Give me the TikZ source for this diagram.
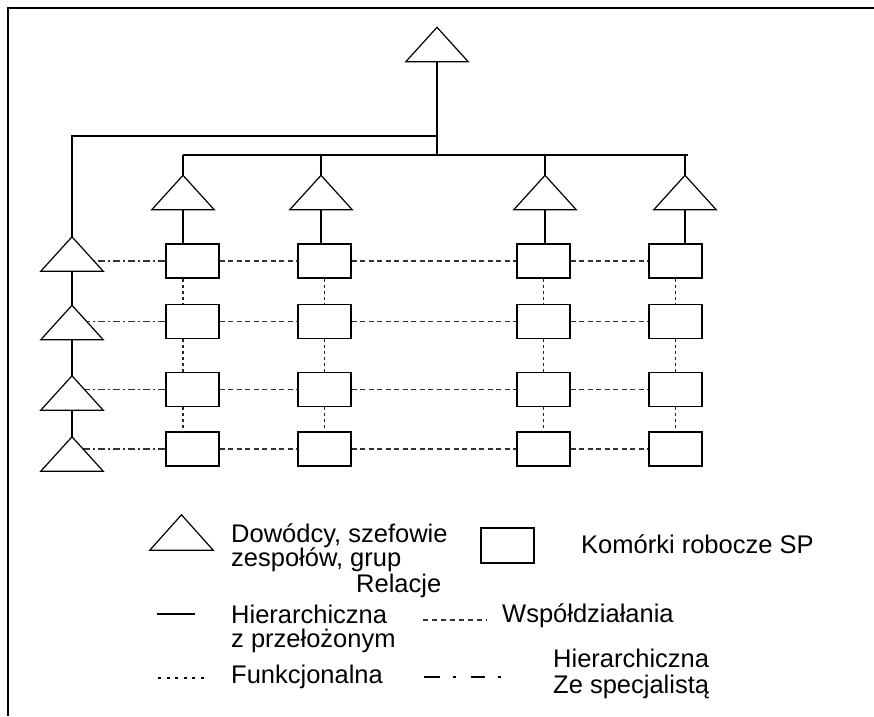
\documentclass[tikz,border=0pt]{standalone}
\usepackage{fontspec}
\setmainfont{Liberation Sans}
\usetikzlibrary{calc}
\begin{document}
\begin{tikzpicture}[x=1pt,y=-1pt,
  trinode/.style={rectangle,inner sep=0pt,minimum width=62pt,minimum height=34pt},
  cell/.style={rectangle,draw,fill=white,line width=1.2pt,inner sep=0pt,minimum width=53pt,minimum height=34pt},
  hier/.style={line width=1.2pt,black},
  coop/.style={line width=1.2pt,black!80,dash pattern=on 5pt off 3.5pt},
  func/.style={line width=1.4pt,black!85,dash pattern=on 3pt off 3pt},
  spec/.style={line width=1.2pt,black!80,dash pattern=on 7pt off 3pt on 2pt off 3pt},
  lbl/.style={anchor=base west,inner sep=0pt,font=\fontsize{25.5}{30}\selectfont}]
\useasboundingbox (0,0) rectangle (874,716);
% frame
\coordinate (fa) at (8,716);
\coordinate (fb) at (8,8);
\coordinate (fc) at (874,8);
\draw[line width=1.6pt] (fa) -- (fb) -- (fc);
% triangle holders
\node[trinode] (T0) at (437,44.5) {};
\node[trinode] (T1) at (183,192.5) {};
\node[trinode] (T2) at (321,192.5) {};
\node[trinode] (T3) at (545,192.5) {};
\node[trinode] (T4) at (685,192.5) {};
\node[trinode] (L1) at (72,254) {};
\node[trinode] (L2) at (72,322.5) {};
\node[trinode] (L3) at (72,393) {};
\node[trinode] (L4) at (72,454) {};
% cells
\foreach \r/\y in {1/261,2/321.5,3/389.5,4/449}
  \foreach \c/\x in {1/192.5,2/324.5,3/543.5,4/675.5}
    \node[cell] (B\r\c) at (\x,\y) {};
% hierarchy lines
\coordinate (ja) at (437,136);
\coordinate (jb) at (437,155);
\coordinate (hl) at (183,155);
\coordinate (hr) at (688,155);
\draw[hier] (T0.south) -- (jb);
\draw[hier] (ja) -| (L1.north);
\draw[hier] (hl) -- (hr);
\foreach \t in {T1,T2,T3,T4} \draw[hier] (\t.north) -- (\t.north |- hl);
\foreach \t/\c in {T1/1,T2/2,T3/3,T4/4} \draw[hier] (\t.south) -- (\t.south |- B1\c.north);
\draw[hier] (L1.south) -- (L2.north);
\draw[hier] (L2.south) -- (L3.north);
\draw[hier] (L3.south) -- (L4.north);
% specialist lines
\foreach \r in {1,2,3,4} \draw[spec] (B\r1.west) -- (B\r1.west -| L\r.center);
% cooperation lines
\foreach \r in {1,2,3,4} {
  \draw[coop] (B\r1.east) -- (B\r2.west);
  \draw[coop] (B\r2.east) -- (B\r3.west);
  \draw[coop] (B\r3.east) -- (B\r4.west);
}
% functional lines
\foreach \r/\s in {1/2,2/3,3/4} {
  \draw[func] (B\r1.south -| T1.south) -- (B\s1.north -| T1.south);
  \draw[func] (B\r2.south) -- (B\s2.north);
  \draw[func] (B\r3.south) -- (B\s3.north);
  \draw[func] (B\r4.south) -- (B\s4.north);
}
% legend
\node[trinode,minimum width=63pt,minimum height=35pt] (LT) at (181.5,532.5) {};
\node[cell,minimum height=35pt] (LB) at (507.5,545.5) {};
% triangles
\foreach \n in {T0,T1,T2,T3,T4,L1,L2,L3,L4,LT}
  \draw[hier,fill=white] (\n.south west) -- (\n.north) -- (\n.south east) -- cycle;
\node[lbl] (tx1) at (231,542) {Dowódcy, szefowie};
\node[lbl] (tx2) at (231,566) {zespołów, grup};
\node[lbl] (tx3) at (581,553) {Komórki robocze SP};
\node[lbl] (tx4) at (356,592) {Relacje};
\node[lbl] (tx5) at (231,623) {Hierarchiczna};
\node[lbl] (tx6) at (231,647) {z przełożonym};
\node[lbl] (tx7) at (502,622) {Współdziałania};
\node[lbl] (tx8) at (231,683) {Funkcjonalna};
\node[lbl] (tx9) at (553,667) {Hierarchiczna};
\node[lbl] (tx10) at (553,693) {Ze specjalistą};
\coordinate (s1) at (157,614);
\coordinate (s2) at (195,614);
\draw[hier] (s1) -- (s2);
\coordinate (c1) at (423,620);
\coordinate (c2) at (487,620);
\draw[line width=1.2pt,black!80,dash pattern=on 5pt off 4pt] (c1) -- (c2);
\coordinate (f1) at (158,678);
\coordinate (f2) at (207,678);
\draw[line width=1.8pt,black,dash pattern=on 3pt off 5.5pt] (f1) -- (f2);
\coordinate (d1) at (424,677);
\coordinate (d2) at (505,677);
\draw[line width=2.6pt,black,dash pattern=on 16pt off 13pt on 3pt off 15pt on 14pt off 13pt on 3pt off 10pt] (d1) -- (d2);
\end{tikzpicture}
\end{document}
